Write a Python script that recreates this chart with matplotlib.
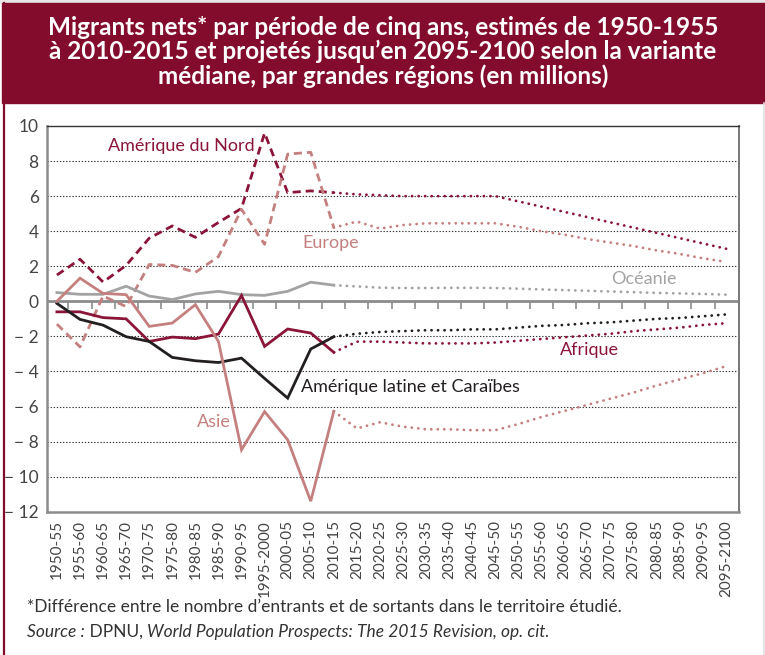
import numpy as np
import matplotlib
matplotlib.use("Agg")
import matplotlib.pyplot as plt
from matplotlib.patches import Rectangle
from matplotlib.lines import Line2D

periods = [
    "1950-55", "1955-60", "1960-65", "1965-70", "1970-75", "1975-80",
    "1980-85", "1985-90", "1990-95", "1995-2000", "2000-05", "2005-10",
    "2010-15", "2015-20", "2020-25", "2025-30", "2030-35", "2035-40",
    "2040-45", "2045-50", "2050-55", "2055-60", "2060-65", "2065-70",
    "2070-75", "2075-80", "2080-85", "2085-90", "2090-95", "2095-2100",
]
n_est = 13  # 1950-55 .. 2010-15 are estimates, the rest projections

# net migrants, millions (estimates then projections, shared point at 2010-15)
north_america = [1.5, 2.4, 1.1, 2.05, 3.6, 4.3, 3.65, 4.5, 5.3, 9.6, 6.2, 6.3, 6.2,
                 6.1, 6.05, 6.0, 6.0, 6.0, 6.0, 6.0, 5.7, 5.4, 5.1, 4.8, 4.5, 4.2, 3.9, 3.6, 3.3, 3.0]
europe = [-1.3, -2.6, 0.3, -0.3, 2.1, 2.05, 1.65, 2.55, 5.25, 3.25, 8.4, 8.5, 4.2,
          4.55, 4.15, 4.35, 4.45, 4.45, 4.45, 4.45, 4.25, 4.0, 3.8, 3.55, 3.35, 3.15, 2.9, 2.7, 2.45, 2.25]
oceania = [0.5, 0.4, 0.4, 0.86, 0.3, 0.1, 0.42, 0.57, 0.38, 0.34, 0.57, 1.09, 0.92,
           0.85, 0.78, 0.76, 0.76, 0.77, 0.77, 0.76, 0.72, 0.68, 0.64, 0.6, 0.56, 0.52, 0.48, 0.45, 0.42, 0.38]
africa = [-0.6, -0.6, -0.93, -1.0, -2.29, -2.04, -2.13, -1.87, 0.33, -2.57, -1.58, -1.81, -2.91,
          -2.3, -2.3, -2.35, -2.4, -2.4, -2.4, -2.35, -2.25, -2.15, -2.05, -1.95, -1.85, -1.7, -1.6, -1.5, -1.35, -1.25]
latin_america = [-0.12, -1.03, -1.36, -2.02, -2.29, -3.2, -3.39, -3.49, -3.24, -4.4, -5.52, -2.72, -2.02,
                 -1.85, -1.75, -1.7, -1.65, -1.65, -1.6, -1.6, -1.5, -1.4, -1.35, -1.25, -1.2, -1.1, -1.0, -0.95, -0.85, -0.75]
asia = [0.0, 1.32, 0.45, 0.38, -1.43, -1.24, -0.19, -2.29, -8.47, -6.29, -7.9, -11.4, -6.27,
        -7.25, -6.9, -7.15, -7.3, -7.3, -7.35, -7.35, -7.0, -6.6, -6.25, -5.9, -5.55, -5.2, -4.8, -4.45, -4.1, -3.7]

DARK_RED = "#8a1538"
PINK = "#c4807f"
GREY = "#a3a3a3"
BLACK = "#231f20"
BAND = "#830b2c"

series = [
    # values, colour, estimate style, label, label pos (x, y)
    (north_america, DARK_RED, "dashed", "Amérique du Nord", (2.2, 8.85)),
    (europe, PINK, "dashed", "Europe", (10.65, 3.3)),
    (oceania, GREY, "solid", "Océanie", (24.0, 1.28)),
    (africa, DARK_RED, "solid", "Afrique", (21.8, -2.76)),
    (latin_america, BLACK, "solid", "Amérique latine et Caraïbes", (10.56, -4.9)),
    (asia, PINK, "solid", "Asie", (6.05, -6.9)),
]

FONT = ["Lato", "DejaVu Sans"]
plt.rcParams["font.family"] = FONT

W, H = 765, 655
fig = plt.figure(figsize=(W / 100, H / 100), dpi=100)

# frame and title band
fig.patches.append(Rectangle((0, (H - 3) / H), 1, 3 / H, transform=fig.transFigure,
                             color="#e6e6e6", zorder=0))
fig.patches.append(Rectangle((2 / W, (H - 103) / H), 1, 100 / H, transform=fig.transFigure,
                             color=BAND, zorder=1))
fig.lines.append(Line2D([3.5 / W, 3.5 / W], [0, (H - 3) / H], transform=fig.transFigure,
                        color=BAND, lw=1.6))
fig.lines.append(Line2D([763.5 / W, 763.5 / W], [0, (H - 103) / H], transform=fig.transFigure,
                        color="#e0e0e0", lw=1.2))

title = ("Migrants nets* par période de cinq ans, estimés de 1950-1955\n"
         "à 2010-2015 et projetés jusqu’en 2095-2100 selon la variante\n"
         "médiane, par grandes régions (en millions)")
fig.text(383 / W, (H - 52) / H, title, ha="center", va="center", color="white",
         fontsize=17.5, fontweight="bold", linespacing=1.05)

ax = fig.add_axes([47 / W, (H - 511.7) / H, 692 / W, 385.7 / H])
x = np.arange(len(periods))
ax.set_xlim(-0.43, len(periods) - 0.44)
ax.set_ylim(-12, 10)

# horizontal dotted grid
for v in range(-10, 10, 2):
    if v != 0:
        ax.axhline(v, color="#333333", lw=0.8, ls=(0, (1.2, 1.6)), zorder=1)

# zero line with small ticks between periods
ax.axhline(0, color="#8c8c8c", lw=2, zorder=2)
ax.vlines(x[:-1] + 0.5, -0.42, 0, color="#8c8c8c", lw=1.2, zorder=2)

for vals, col, style, label, (lx, ly) in series:
    vals = np.asarray(vals)
    if style == "dashed":
        ls = (0, (2.9, 1.8))
    else:
        ls = "-"
    ax.plot(x[:n_est], vals[:n_est], color=col, lw=2.0, ls=ls, zorder=4,
            solid_joinstyle="miter")
    ax.plot(x[n_est - 1:], vals[n_est - 1:], color=col, lw=2.0, ls=(0, (0.05, 2.3)),
            dash_capstyle="round", zorder=3)
    ax.text(lx, ly, label, color=col, fontsize=13, ha="left", va="center", zorder=5)

for side in ["left", "bottom"]:
    ax.spines[side].set_color("#8c8c8c")
    ax.spines[side].set_linewidth(1.8)
ax.spines["top"].set_color("#333333")
ax.spines["top"].set_linewidth(1.0)
ax.spines["right"].set_color("#777777")
ax.spines["right"].set_linewidth(1.4)

yt = np.arange(-12, 11, 2)
ax.set_yticks(yt)
ax.set_yticklabels([f"− {abs(v)}" if v < 0 else str(v) for v in yt])
ax.set_xticks(x)
ax.set_xticklabels(periods, rotation=90)
ax.tick_params(axis="y", length=0, pad=6, labelsize=12.5, labelcolor="#444444")
ax.tick_params(axis="x", length=0, pad=6, labelsize=11, labelcolor="#444444")

# notes
fig.text(27 / W, (H - 607) / H, "*Différence entre le nombre d’entrants et de sortants dans le territoire étudié.",
         fontsize=12.5, color="#333333", va="center", ha="left")
fig.canvas.draw()
r = fig.canvas.get_renderer()
xpos = 27
for txt, style in [("Source :", "italic"), (" DPNU, ", "normal"),
                   ("World Population Prospects: The 2015 Revision, op. cit.", "italic")]:
    t = fig.text(xpos / W, (H - 632) / H, txt, fontsize=12.5, color="#333333",
                 va="center", ha="left", style=style)
    xpos += t.get_window_extent(r).width

fig.savefig("out.png", dpi=100)
